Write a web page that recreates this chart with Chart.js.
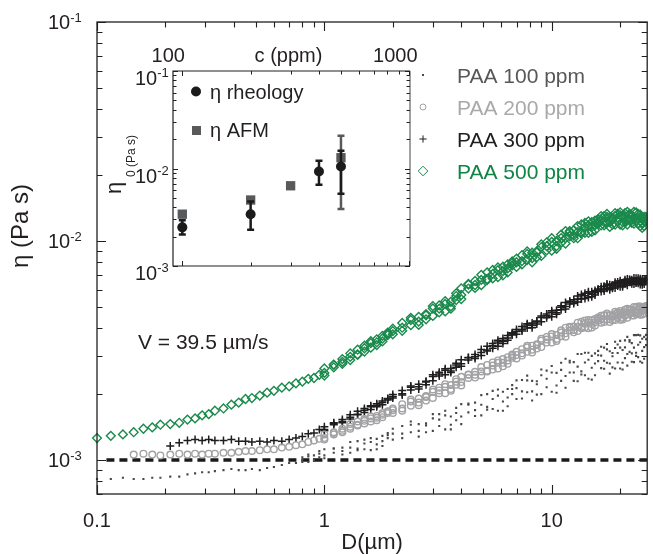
<!DOCTYPE html>
<html>
<head>
<meta charset="utf-8">
<script src="https://cdn.jsdelivr.net/npm/chart.js@4.4.0/dist/chart.umd.min.js"></script>
<style>
  html, body { margin: 0; padding: 0; background: #fff; }
  #wrap { position: relative; width: 653px; height: 554px; }
  #main { position: absolute; left: 0; top: 0; }
  #inset { position: absolute; left: 100px; top: 30px; }
</style>
</head>
<body>
<div id="wrap">
  <canvas id="main" width="653" height="554"></canvas>
  <canvas id="inset" width="320" height="250"></canvas>
</div>
<script>
// ---- main plot: D (µm) vs η, values in mPa·s (×1e-3 Pa s) ----
const D = [0.1, 0.115, 0.13, 0.145, 0.16, 0.175, 0.19, 0.21, 0.23, 0.25, 0.27, 0.29, 0.31, 0.33, 0.36, 0.39, 0.42, 0.45, 0.48, 0.52,
  0.56, 0.6, 0.65, 0.7, 0.75, 0.8, 0.85, 0.9, 0.95, 1.0,
  1.1, 1.2, 1.3, 1.4, 1.5, 1.6, 1.7, 1.8, 1.9, 2.0,
  2.2, 2.4, 2.6, 2.8, 3.0, 3.2, 3.4, 3.6, 3.8, 4.0,
  4.3, 4.6, 4.9, 5.2, 5.5, 5.8, 6.1, 6.4, 6.7, 7.0,
  7.4, 7.8, 8.2, 8.6, 9.0, 9.5, 10, 10.5, 11, 11.5,
  12, 12.5, 13, 13.5, 14, 14.5, 15, 15.5, 16, 16.5,
  17, 17.5, 18, 18.5, 19, 19.5, 20, 20.5, 21, 21.5,
  22, 22.5, 23, 23.5, 24, 24.5, 25, 25.5, 26];
// from 1 µm on, the readings overlap into bands: two more readings per D
const Dband = D.slice(29);

// PAA 100 ppm: scattered cloud, three readings per D
const eta100 = [0.82, 0.82, 0.83, 0.82, 0.82, 0.83, 0.83, 0.84, 0.84, 0.86, 0.87, 0.88, 0.88, 0.89, 0.90, 0.91, 0.90, 0.90, 0.91, 0.90,
  0.92, 0.93, 0.95, 0.97, 0.97, 1.03, 0.98, 1.05, 1.03, 1.12,
  1.08, 1.14, 1.08, 1.22, 1.12, 1.21, 1.12, 1.29, 1.26, 1.24,
  1.43, 1.34, 1.46, 1.34, 1.62, 1.62, 1.38, 1.58, 1.52, 1.80,
  1.65, 1.83, 1.60, 2.00, 1.71, 1.97, 1.68, 2.11, 2.00, 1.90,
  2.32, 2.04, 2.30, 1.99, 2.59, 2.56, 2.05, 2.50, 2.30, 2.90,
  2.51, 2.80, 2.29, 3.05, 2.44, 2.87, 2.33, 3.07, 2.83, 2.63,
  3.26, 2.78, 3.14, 2.65, 3.47, 3.37, 2.62, 3.18, 2.92, 3.65,
  3.12, 3.42, 2.80, 3.72, 2.95, 3.45, 2.78, 3.65, 3.35];

const eta100b = [null, null, null, null, null, null, null, null, null, null, null, null, null, null, null, null, null, null, null, null,
  null, null, null, null, null, 0.98, 1.04, 0.99, 1.10, 1.05,
  1.13, 1.06, 1.14, 1.13, 1.24, 1.11, 1.25, 1.22, 1.33, 1.32,
  1.26, 1.50, 1.36, 1.47, 1.36, 1.43, 1.60, 1.38, 1.73, 1.58,
  1.79, 1.59, 1.79, 1.75, 2.07, 1.68, 2.05, 1.93, 2.20, 2.13,
  1.91, 2.43, 2.06, 2.29, 2.00, 2.15, 2.51, 2.03, 2.78, 2.42,
  2.79, 2.30, 2.67, 2.54, 3.09, 2.35, 2.99, 2.76, 3.15, 3.00,
  2.61, 3.39, 2.76, 3.08, 2.62, 2.79, 3.26, 2.59, 3.52, 3.05,
  3.47, 2.81, 3.26, 3.09, 3.73, 2.82, 3.58, 3.28, 3.73];

const eta100c = [null, null, null, null, null, null, null, null, null, null, null, null, null, null, null, null, null, null, null, null,
  null, null, null, null, null, 1.00, 1.06, 1.01, 1.07, 1.02,
  1.13, 1.10, 1.21, 1.11, 1.19, 1.26, 1.18, 1.16, 1.30, 1.39,
  1.32, 1.45, 1.28, 1.44, 1.55, 1.53, 1.68, 1.45, 1.64, 1.46,
  1.81, 1.69, 1.98, 1.70, 1.90, 2.10, 1.85, 1.76, 2.11, 2.31,
  2.06, 2.31, 1.87, 2.22, 2.44, 2.35, 2.69, 2.19, 2.58, 2.14,
  2.84, 2.51, 3.05, 2.46, 2.79, 3.09, 2.64, 2.44, 3.01, 3.29,
  2.84, 3.20, 2.48, 2.98, 3.25, 3.08, 3.50, 2.78, 3.27, 2.70,
  3.53, 3.07, 3.72, 2.99, 3.36, 3.71, 3.15, 2.90, 3.56];

// PAA 200 ppm
const eta200 = [null, null, null, 1.06, 1.07, 1.06, 1.05, 1.06, 1.07, 1.06, 1.07, 1.06, 1.07, 1.07, 1.08, 1.08, 1.09, 1.10, 1.10, 1.11,
  1.12, 1.12, 1.14, 1.15, 1.17, 1.18, 1.21, 1.23, 1.25, 1.31,
  1.31, 1.39, 1.39, 1.50, 1.47, 1.55, 1.52, 1.64, 1.64, 1.64,
  1.80, 1.77, 1.91, 1.87, 2.10, 2.14, 2.02, 2.20, 2.21, 2.40,
  2.37, 2.53, 2.43, 2.72, 2.59, 2.78, 2.68, 2.95, 2.93, 2.91,
  3.21, 3.12, 3.33, 3.23, 3.58, 3.65, 3.44, 3.72, 3.68, 4.02,
  3.90, 4.07, 3.88, 4.28, 4.03, 4.25, 4.03, 4.41, 4.33, 4.24,
  4.58, 4.38, 4.58, 4.36, 4.76, 4.73, 4.37, 4.66, 4.57, 4.91,
  4.69, 4.86, 4.57, 5.00, 4.67, 4.90, 4.62, 5.01, 4.88];
const eta200b = [1.26, 1.33, 1.34, 1.42, 1.45, 1.54, 1.50, 1.59, 1.61, 1.67, 1.69,
  1.68, 1.89, 1.83, 1.96, 1.92, 2.02, 2.16, 2.07, 2.34, 2.27,
  2.45, 2.38, 2.54, 2.56, 2.79, 2.62, 2.89, 2.85, 3.03, 3.02,
  3.00, 3.33, 3.19, 3.38, 3.28, 3.44, 3.67, 3.50, 3.91, 3.79,
  4.04, 3.83, 4.06, 4.04, 4.34, 4.00, 4.35, 4.26, 4.48, 4.42,
  4.27, 4.67, 4.40, 4.57, 4.36, 4.46, 4.67, 4.38, 4.85, 4.63,
  4.85, 4.57, 4.78, 4.71, 5.03, 4.61, 4.98, 4.84, 5.05];
const eta200c = [1.24, 1.34, 1.36, 1.46, 1.44, 1.51, 1.58, 1.56, 1.57, 1.66, 1.72,
  1.72, 1.85, 1.78, 1.94, 2.05, 2.08, 2.22, 2.11, 2.28, 2.19,
  2.46, 2.45, 2.66, 2.54, 2.70, 2.85, 2.78, 2.75, 2.99, 3.12,
  3.07, 3.27, 3.10, 3.35, 3.51, 3.55, 3.76, 3.57, 3.82, 3.66,
  4.06, 3.93, 4.24, 4.00, 4.19, 4.36, 4.18, 4.11, 4.42, 4.56,
  4.38, 4.58, 4.27, 4.52, 4.65, 4.59, 4.79, 4.47, 4.73, 4.47,
  4.87, 4.69, 5.00, 4.66, 4.86, 5.02, 4.79, 4.67, 4.98];

// PAA 300 ppm
const eta300 = [null, null, null, null, null, null, null, 1.16, 1.20, 1.23, 1.24, 1.23, 1.24, 1.23, 1.23, 1.24, 1.22, 1.22, 1.21, 1.22,
  1.21, 1.23, 1.22, 1.24, 1.26, 1.28, 1.32, 1.33, 1.38, 1.42,
  1.45, 1.53, 1.54, 1.67, 1.65, 1.75, 1.75, 1.86, 1.88, 1.92,
  2.08, 2.09, 2.22, 2.21, 2.45, 2.52, 2.45, 2.62, 2.65, 2.87,
  2.86, 3.03, 3.00, 3.31, 3.24, 3.46, 3.41, 3.70, 3.72, 3.75,
  4.07, 4.01, 4.23, 4.18, 4.55, 4.65, 4.51, 4.83, 4.86, 5.24,
  5.16, 5.40, 5.27, 5.70, 5.47, 5.77, 5.57, 5.95, 5.90, 5.88,
  6.22, 6.09, 6.31, 6.09, 6.49, 6.50, 6.18, 6.45, 6.39, 6.71,
  6.49, 6.66, 6.37, 6.76, 6.41, 6.62, 6.32, 6.69, 6.55];
const eta300b = [1.38, 1.47, 1.48, 1.57, 1.62, 1.72, 1.70, 1.81, 1.83, 1.91, 1.95,
  1.98, 2.18, 2.16, 2.29, 2.30, 2.42, 2.57, 2.51, 2.77, 2.75,
  2.93, 2.91, 3.10, 3.18, 3.41, 3.31, 3.59, 3.61, 3.81, 3.86,
  3.88, 4.19, 4.11, 4.31, 4.28, 4.46, 4.73, 4.63, 5.07, 5.02,
  5.29, 5.18, 5.44, 5.47, 5.77, 5.53, 5.87, 5.81, 6.04, 6.04,
  5.92, 6.37, 6.13, 6.28, 6.10, 6.23, 6.47, 6.19, 6.66, 6.43,
  6.65, 6.39, 6.57, 6.48, 6.76, 6.34, 6.66, 6.53, 6.71];
const eta300c = [1.36, 1.48, 1.50, 1.61, 1.61, 1.69, 1.77, 1.78, 1.79, 1.90, 1.99,
  2.01, 2.15, 2.11, 2.27, 2.41, 2.47, 2.61, 2.55, 2.72, 2.68,
  2.94, 2.96, 3.20, 3.15, 3.33, 3.52, 3.49, 3.52, 3.77, 3.95,
  3.95, 4.14, 4.02, 4.28, 4.48, 4.56, 4.81, 4.70, 4.98, 4.90,
  5.31, 5.27, 5.61, 5.43, 5.63, 5.87, 5.71, 5.67, 5.98, 6.18,
  6.03, 6.28, 6.00, 6.24, 6.39, 6.36, 6.58, 6.28, 6.55, 6.28,
  6.67, 6.50, 6.78, 6.44, 6.60, 6.73, 6.48, 6.37, 6.64];

// PAA 500 ppm
const eta500 = [1.26, 1.29, 1.31, 1.34, 1.39, 1.41, 1.45, 1.46, 1.48, 1.53, 1.55, 1.60, 1.62, 1.68, 1.72, 1.79, 1.83, 1.90, 1.92, 1.97,
  2.03, 2.07, 2.14, 2.17, 2.24, 2.28, 2.35, 2.37, 2.45, 2.62,
  2.65, 2.89, 2.86, 3.19, 3.13, 3.42, 3.35, 3.69, 3.72, 3.75,
  4.23, 4.13, 4.51, 4.39, 5.05, 5.08, 4.77, 5.28, 5.38, 6.08,
  6.07, 6.57, 6.29, 7.20, 6.75, 7.36, 6.97, 7.82, 7.74, 7.62,
  8.62, 8.20, 8.84, 8.44, 9.66, 9.86, 9.04, 10.0, 9.82, 11.1,
  10.5, 11.2, 10.3, 11.9, 10.9, 11.8, 11.0, 12.4, 12.0, 11.8,
  13.0, 12.1, 12.9, 11.9, 13.4, 13.3, 11.9, 12.9, 12.3, 13.6,
  12.6, 13.1, 12.0, 13.5, 12.0, 12.8, 11.5, 12.9, 12.3];
const eta500b = [2.50, 2.72, 2.75, 2.96, 3.04, 3.33, 3.26, 3.56, 3.59, 3.82, 3.88,
  3.89, 4.46, 4.29, 4.64, 4.55, 4.73, 5.16, 4.91, 5.77, 5.67,
  6.33, 6.11, 6.65, 6.71, 7.38, 6.84, 7.64, 7.50, 8.07, 8.00,
  7.82, 8.97, 8.36, 8.99, 8.55, 9.07, 9.92, 9.21, 10.7, 10.3,
  11.0, 10.3, 11.0, 11.0, 12.1, 10.9, 12.2, 11.8, 12.6, 12.5,
  11.8, 13.3, 12.2, 12.7, 11.9, 12.3, 13.1, 11.8, 13.4, 12.5,
  13.2, 12.1, 12.8, 12.4, 13.3, 11.7, 12.8, 12.3, 12.9];
const eta500c = [2.43, 2.73, 2.81, 3.07, 3.02, 3.24, 3.49, 3.45, 3.48, 3.78, 3.98,
  4.02, 4.36, 4.14, 4.58, 4.92, 4.91, 5.31, 5.03, 5.61, 5.43,
  6.37, 6.30, 7.01, 6.63, 7.08, 7.58, 7.29, 7.19, 7.93, 8.31,
  8.10, 8.73, 8.00, 8.87, 9.38, 9.47, 10.3, 9.48, 10.3, 9.74,
  11.1, 10.6, 11.7, 10.8, 11.6, 12.3, 11.6, 11.2, 12.3, 13.0,
  12.2, 12.9, 11.6, 12.5, 13.0, 12.8, 13.5, 12.2, 13.0, 11.9,
  13.3, 12.5, 13.6, 12.3, 12.7, 13.2, 12.1, 11.7, 12.6];

// water viscosity reference line
const waterD = [0.11, 30];
const waterEta = [1.0, 1.0];

const seriesLabels = ['PAA 100 ppm', 'PAA 200 ppm', 'PAA 300 ppm', 'PAA 500 ppm'];
const seriesColors = ['#48484a', '#a2a2a5', '#1f1d1e', '#1a8a4c'];
const legendTextColors = ['#585858', '#a9a9ab', '#1f1d1e', '#0f8545'];
const seriesStyles = ['rect', 'circle', 'cross', 'rectRot'];

// ---- inset: η0 vs concentration ----
const conc = [100, 200, 300, 400, 500];
const etaRheo = [2.49e-3, 3.4e-3, null, 9.3e-3, 1.05e-2];
const rheoLo = [2.1e-3, 2.35e-3, null, 6.8e-3, 5.5e-3];
const rheoHi = [2.95e-3, 4.6e-3, null, 1.2e-2, 1.52e-2];
const etaAfm = [3.4e-3, 4.75e-3, 6.65e-3, null, 1.29e-2];
const afmLo = [null, null, null, null, 3.85e-3];
const afmHi = [null, null, null, null, 2.17e-2];

// ---- tick labels ----
const xTickVals = [0.1, 1, 10];
const xTickLabels = ['0.1', '1', '10'];
const yTickVals = [1e-3, 1e-2, 1e-1];
const yTickExps = ['-3', '-2', '-1'];
const cTickVals = [100, 1000];
const cTickLabels = ['100', '1000'];
const insetYTickVals = [1e-3, 1e-2, 1e-1];
const insetYTickExps = ['-3', '-2', '-1'];

const FONT = '"Liberation Sans", Arial, Helvetica, sans-serif';
const INK = '#231f20';

const toPts = (xs, ys) => xs.map((x, i) => (ys[i] == null ? null : { x, y: ys[i] / 1000 })).filter(Boolean);

function withErr(xs, ys, lo, hi) {
  const out = [];
  xs.forEach((x, i) => {
    if (ys[i] == null) return;
    out.push({ x, y: ys[i], lo: lo[i], hi: hi[i] });
  });
  return out;
}

// all 1..9 multiples of the decades that fall inside [lo, hi]
function logTicks(decades, lo, hi) {
  const out = [];
  decades.forEach(d => {
    for (let k = 1; k <= 9; k++) {
      const v = d * k;
      if (v >= lo * 0.9999 && v <= hi * 1.0001) out.push({ v, major: k === 1 });
    }
  });
  return out;
}

function powLabel(ctx, exp, xLeft, tickY, size, baseOff, expOff) {
  ctx.textAlign = 'left';
  ctx.textBaseline = 'alphabetic';
  ctx.font = size + 'px ' + FONT;
  ctx.fillText('10', xLeft, tickY + baseOff);
  const w = ctx.measureText('10').width;
  ctx.font = Math.round(size * 0.65) + 'px ' + FONT;
  ctx.fillText(exp, xLeft + w, tickY + expOff);
}

function drawMarker(ctx, style, x, y, r, color, filled) {
  ctx.save();
  ctx.strokeStyle = color;
  ctx.fillStyle = color;
  ctx.lineWidth = 1;
  ctx.beginPath();
  if (style === 'circle') {
    ctx.arc(x, y, r, 0, Math.PI * 2);
    filled ? ctx.fill() : ctx.stroke();
  } else if (style === 'rect') {
    ctx.fillRect(x - r, y - r, 2 * r, 2 * r);
  } else if (style === 'cross') {
    ctx.moveTo(x - r, y); ctx.lineTo(x + r, y);
    ctx.moveTo(x, y - r); ctx.lineTo(x, y + r);
    ctx.stroke();
  } else if (style === 'rectRot') {
    ctx.moveTo(x - r, y); ctx.lineTo(x, y - r); ctx.lineTo(x + r, y); ctx.lineTo(x, y + r);
    ctx.closePath();
    ctx.stroke();
  }
  ctx.restore();
}

// box, inward ticks, labels, legend and notes of the main plot
const mainFrame = {
  id: 'mainFrame',
  afterDraw(chart) {
    const { ctx, chartArea: a } = chart;
    const x = chart.scales.x, y = chart.scales.y;
    ctx.save();
    ctx.strokeStyle = INK;
    ctx.lineWidth = 1.3;
    ctx.strokeRect(a.left, a.top, a.right - a.left, a.bottom - a.top);

    ctx.lineWidth = 1.1;
    ctx.beginPath();
    logTicks([0.1, 1, 10], x.min, x.max).forEach(t => {
      const px = Math.round(x.getPixelForValue(t.v)) + 0.5;
      const len = t.major ? 9 : 5.5;
      ctx.moveTo(px, a.bottom); ctx.lineTo(px, a.bottom - len);
      ctx.moveTo(px, a.top); ctx.lineTo(px, a.top + len);
    });
    logTicks([1e-4, 1e-3, 1e-2, 1e-1], y.min, y.max).forEach(t => {
      const py = Math.round(y.getPixelForValue(t.v)) + 0.5;
      const len = t.major ? 9 : 5.5;
      ctx.moveTo(a.left, py); ctx.lineTo(a.left + len, py);
      ctx.moveTo(a.right, py); ctx.lineTo(a.right - len, py);
    });
    ctx.stroke();

    ctx.fillStyle = INK;
    ctx.font = '20px ' + FONT;
    ctx.textAlign = 'center';
    ctx.textBaseline = 'alphabetic';
    xTickVals.forEach((v, i) => ctx.fillText(xTickLabels[i], x.getPixelForValue(v), a.bottom + 33));
    yTickVals.forEach((v, i) => powLabel(ctx, yTickExps[i], 48, y.getPixelForValue(v), 20, 7, 0));

    ctx.font = '22px ' + FONT;
    ctx.textAlign = 'center';
    ctx.fillText('D(µm)', (a.left + a.right) / 2, 549);

    ctx.save();
    ctx.translate(28, 226);
    ctx.rotate(-Math.PI / 2);
    ctx.font = '24px ' + FONT;
    ctx.fillText('η (Pa s)', 0, 0);
    ctx.restore();

    ctx.font = '21px ' + FONT;
    ctx.textAlign = 'left';
    ctx.fillText('V = 39.5 µm/s', 138, 349);

    // legend
    const rowY = [75, 107, 139, 171];
    const radii = [1, 3, 3.6, 4.8];
    seriesLabels.forEach((lab, i) => {
      drawMarker(ctx, seriesStyles[i], 423, rowY[i], radii[i], seriesColors[i], false);
      ctx.fillStyle = legendTextColors[i];
      ctx.font = '21px ' + FONT;
      ctx.textAlign = 'left';
      ctx.fillText(lab, 457, rowY[i] + 7.5);
    });
    ctx.restore();
  }
};

const CLIP = { left: 6, top: 0, right: 0, bottom: 0 };

const mainData = {
  datasets: [
    {
      label: seriesLabels[0],
      data: toPts(D, eta100).concat(toPts(D, eta100b), toPts(D, eta100c)),
      pointStyle: 'rect', pointRadius: 1.5,
      backgroundColor: seriesColors[0], borderColor: seriesColors[0], borderWidth: 0,
      clip: CLIP
    },
    {
      label: seriesLabels[1],
      data: toPts(D, eta200).concat(toPts(Dband, eta200b), toPts(Dband, eta200c)),
      pointStyle: 'circle', pointRadius: 3.3,
      backgroundColor: 'rgba(0,0,0,0)', borderColor: seriesColors[1], borderWidth: 1.4,
      clip: CLIP
    },
    {
      label: seriesLabels[2],
      data: toPts(D, eta300).concat(toPts(Dband, eta300b), toPts(Dband, eta300c)),
      pointStyle: 'cross', pointRadius: 4,
      backgroundColor: seriesColors[2], borderColor: seriesColors[2], borderWidth: 1.5,
      clip: CLIP
    },
    {
      label: seriesLabels[3],
      data: toPts(D, eta500).concat(toPts(Dband, eta500b), toPts(Dband, eta500c)),
      pointStyle: 'rectRot', pointRadius: 4.4,
      backgroundColor: 'rgba(0,0,0,0)', borderColor: seriesColors[3], borderWidth: 1.4,
      clip: CLIP
    },
    {
      label: 'water',
      data: toPts(waterD, waterEta),
      showLine: true, pointRadius: 0,
      borderColor: '#1a1a1a', borderWidth: 3.5, borderDash: [8, 5],
      clip: 0
    }
  ]
};

new Chart(document.getElementById('main'), {
  type: 'scatter',
  data: mainData,
  options: {
    responsive: false,
    animation: false,
    events: [],
    layout: { padding: { left: 97, right: 2, top: 22, bottom: 60 } },
    plugins: { legend: { display: false }, tooltip: { enabled: false } },
    scales: {
      x: { type: 'logarithmic', min: 0.1, max: 26.3, display: false },
      y: { type: 'logarithmic', min: 7.0e-4, max: 0.1, display: false }
    }
  },
  plugins: [mainFrame]
});

// error bars drawn just before each inset dataset's points
const errorBars = {
  id: 'errorBars',
  beforeDatasetDraw(chart, args) {
    const ds = chart.data.datasets[args.index];
    if (!ds.errColor) return;
    const { ctx } = chart;
    const x = chart.scales.x, y = chart.scales.y;
    ctx.save();
    ctx.strokeStyle = ds.errColor;
    ctx.lineWidth = 2.5;
    ctx.beginPath();
    ds.data.forEach(p => {
      if (p.lo == null) return;
      const px = x.getPixelForValue(p.x);
      const y1 = y.getPixelForValue(p.lo), y2 = y.getPixelForValue(p.hi);
      ctx.moveTo(px, y1); ctx.lineTo(px, y2);
      ctx.moveTo(px - 3.5, y1); ctx.lineTo(px + 3.5, y1);
      ctx.moveTo(px - 3.5, y2); ctx.lineTo(px + 3.5, y2);
    });
    ctx.stroke();
    ctx.restore();
  }
};

const insetFrame = {
  id: 'insetFrame',
  afterDraw(chart) {
    const { ctx, chartArea: a } = chart;
    const x = chart.scales.x, y = chart.scales.y;
    ctx.save();
    ctx.strokeStyle = INK;
    ctx.lineWidth = 1.2;
    ctx.beginPath();
    ctx.moveTo(a.right, a.top); ctx.lineTo(a.left, a.top); ctx.lineTo(a.left, a.bottom); ctx.lineTo(a.right, a.bottom);
    ctx.stroke();
    ctx.strokeStyle = '#8a8a8a';
    ctx.lineWidth = 1.6;
    ctx.beginPath();
    ctx.moveTo(a.right, a.top); ctx.lineTo(a.right, a.bottom);
    ctx.stroke();

    ctx.strokeStyle = INK;
    ctx.lineWidth = 1;
    ctx.beginPath();
    logTicks([10, 100, 1000], x.min, x.max).forEach(t => {
      const px = Math.round(x.getPixelForValue(t.v)) + 0.5;
      const len = t.major ? 5 : 3.5;
      ctx.moveTo(px, a.bottom); ctx.lineTo(px, a.bottom - len);
      ctx.moveTo(px, a.top); ctx.lineTo(px, a.top + len);
    });
    logTicks([1e-3, 1e-2, 1e-1], y.min, y.max).forEach(t => {
      const py = Math.round(y.getPixelForValue(t.v)) + 0.5;
      const len = t.major ? 5 : 3.5;
      ctx.moveTo(a.left, py); ctx.lineTo(a.left + len, py);
      ctx.moveTo(a.right, py); ctx.lineTo(a.right - len, py);
    });
    ctx.stroke();

    ctx.fillStyle = INK;
    ctx.font = '20px ' + FONT;
    ctx.textAlign = 'center';
    ctx.textBaseline = 'alphabetic';
    cTickVals.forEach((v, i) => ctx.fillText(cTickLabels[i], x.getPixelForValue(v) - 14, a.top - 9));
    ctx.fillText('c (ppm)', (a.left + a.right) / 2 - 3, a.top - 9);
    insetYTickVals.forEach((v, i) => powLabel(ctx, insetYTickExps[i], 35, y.getPixelForValue(v), 20, 14, 6));

    // rotated η0 (Pa s)
    ctx.save();
    ctx.translate(21, 158);
    ctx.rotate(-Math.PI / 2);
    ctx.textAlign = 'center';
    ctx.font = '22px ' + FONT;
    ctx.fillText('η', 0, 0);
    ctx.restore();
    ctx.save();
    ctx.translate(35, 147);
    ctx.rotate(-Math.PI / 2);
    ctx.textAlign = 'left';
    ctx.font = '12px ' + FONT;
    ctx.fillText('0 (Pa s)', 0, 0);
    ctx.restore();

    // inset legend
    const ds = chart.data.datasets;
    drawMarker(ctx, 'circle', 96, 61.5, 5, ds[0].backgroundColor, true);
    ctx.fillStyle = ds[1].backgroundColor;
    ctx.fillRect(92, 96, 9, 9);
    ctx.fillStyle = INK;
    ctx.font = '20px ' + FONT;
    ctx.textAlign = 'left';
    ctx.fillText(ds[0].label, 110, 68.5);
    ctx.fillText(ds[1].label, 110, 107);
    ctx.restore();
  }
};

new Chart(document.getElementById('inset'), {
  type: 'scatter',
  data: {
    datasets: [
      {
        label: 'η rheology',
        data: withErr(conc, etaRheo, rheoLo, rheoHi),
        pointStyle: 'circle', pointRadius: 5,
        backgroundColor: '#1b1b1b', borderColor: '#1b1b1b', borderWidth: 0,
        errColor: '#1b1b1b'
      },
      {
        label: 'η AFM',
        data: withErr(conc, etaAfm, afmLo, afmHi),
        pointStyle: 'rect', pointRadius: 6.6,
        backgroundColor: '#58595b', borderColor: '#58595b', borderWidth: 0,
        errColor: '#58595b'
      }
    ]
  },
  options: {
    responsive: false,
    animation: false,
    events: [],
    layout: { padding: { left: 73, right: 10, top: 41, bottom: 14 } },
    plugins: { legend: { display: false }, tooltip: { enabled: false } },
    scales: {
      x: { type: 'logarithmic', min: 91, max: 1007, display: false },
      y: { type: 'logarithmic', min: 1e-3, max: 1e-1, display: false }
    }
  },
  plugins: [errorBars, insetFrame]
});
</script>
</body>
</html>
